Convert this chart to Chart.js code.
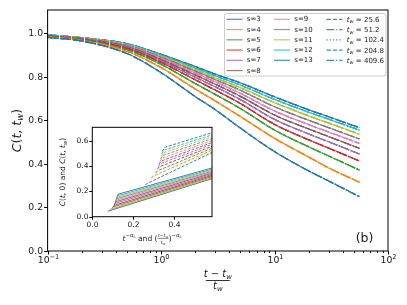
<!DOCTYPE html>
<html>
<head>
<meta charset="utf-8">
<script src="https://cdn.jsdelivr.net/npm/chart.js@4.4.0/dist/chart.umd.min.js"></script>
<style>
  html, body { margin: 0; padding: 0; background: #fff; }
  #wrap { position: relative; width: 407px; height: 305px; }
  #main { position: absolute; left: 0; top: 0; }
  #inset { position: absolute; left: 50px; top: 112px; }
</style>
</head>
<body>
<div id="wrap">
  <canvas id="main" width="407" height="305"></canvas>
  <canvas id="inset" width="170" height="140"></canvas>
</div>
<script>
// ---- data ----
const sizes = [3, 4, 5, 6, 7, 8, 9, 10, 11, 12, 13];
const waitTimes = ['25.6', '51.2', '102.4', '204.8', '409.6'];
const colors = ['#1f77b4', '#ff7f0e', '#2ca02c', '#d62728', '#9467bd', '#8c564b',
                '#e377c2', '#7f7f7f', '#bcbd22', '#17becf', '#1f77b4'];

// scaled time (t - tw)/tw
const scaledTime = [0.1, 0.2, 0.5, 1, 2, 3, 5, 10, 20, 30, 56];
const corrS3  = [0.982, 0.965, 0.908, 0.820, 0.710, 0.650, 0.565, 0.457, 0.368, 0.322, 0.250];
const corrS4  = [0.985, 0.968, 0.918, 0.843, 0.745, 0.690, 0.618, 0.518, 0.432, 0.382, 0.316];
const corrS5  = [0.987, 0.971, 0.925, 0.858, 0.770, 0.720, 0.655, 0.556, 0.479, 0.437, 0.372];
const corrS6  = [0.988, 0.973, 0.931, 0.867, 0.787, 0.740, 0.678, 0.582, 0.511, 0.473, 0.414];
const corrS7  = [0.989, 0.975, 0.935, 0.874, 0.799, 0.755, 0.696, 0.605, 0.538, 0.502, 0.446];
const corrS8  = [0.990, 0.976, 0.939, 0.880, 0.809, 0.767, 0.711, 0.625, 0.561, 0.526, 0.472];
const corrS9  = [0.991, 0.977, 0.942, 0.886, 0.818, 0.778, 0.725, 0.644, 0.581, 0.547, 0.495];
const corrS10 = [0.992, 0.978, 0.945, 0.891, 0.827, 0.788, 0.739, 0.663, 0.601, 0.567, 0.515];
const corrS11 = [0.992, 0.979, 0.948, 0.896, 0.835, 0.797, 0.751, 0.682, 0.621, 0.588, 0.537];
const corrS12 = [0.993, 0.980, 0.951, 0.900, 0.842, 0.806, 0.763, 0.697, 0.638, 0.606, 0.556];
const corrS13 = [0.994, 0.981, 0.953, 0.904, 0.848, 0.813, 0.773, 0.709, 0.649, 0.617, 0.567];
const corrBySize = [corrS3, corrS4, corrS5, corrS6, corrS7, corrS8, corrS9, corrS10, corrS11, corrS12, corrS13];

// inset: C(t,0) vs t^-a (solid), C(t,tw) vs ((t-tw)/tw)^-a (dashed)
const insetXEnd = 0.585;
const ct0StartX = [0.075, 0.085, 0.095, 0.100, 0.105, 0.108, 0.110, 0.112, 0.115, 0.117, 0.120];
const ct0StartY = [0.040, 0.050, 0.065, 0.075, 0.085, 0.095, 0.105, 0.115, 0.125, 0.135, 0.145];
const ct0KinkX  = [0.080, 0.092, 0.102, 0.108, 0.112, 0.115, 0.117, 0.119, 0.121, 0.123, 0.125];
const ct0KinkY  = [0.045, 0.060, 0.077, 0.090, 0.105, 0.118, 0.130, 0.142, 0.153, 0.165, 0.177];
const ct0EndY   = [0.300, 0.309, 0.317, 0.325, 0.333, 0.342, 0.350, 0.358, 0.367, 0.375, 0.384];
const ctwStartX = [0.260, 0.290, 0.310, 0.318, 0.322, 0.326, 0.330, 0.333, 0.336, 0.339, 0.342];
const ctwStartY = [0.250, 0.305, 0.345, 0.375, 0.395, 0.415, 0.435, 0.455, 0.475, 0.495, 0.515];
const ctwKinkX  = [0.265, 0.295, 0.316, 0.326, 0.332, 0.338, 0.342, 0.346, 0.349, 0.352, 0.355];
const ctwKinkY  = [0.260, 0.318, 0.360, 0.393, 0.418, 0.440, 0.462, 0.484, 0.505, 0.526, 0.548];
const ctwEndY   = [0.506, 0.525, 0.540, 0.555, 0.570, 0.585, 0.600, 0.615, 0.630, 0.645, 0.662];

// ---- helpers ----
const FONT = '"DejaVu Sans", sans-serif';
function fnt(size, italic) { return (italic ? 'italic ' : '') + size + 'px ' + FONT; }
function hexA(hex, a) {
  const n = parseInt(hex.slice(1), 16);
  return 'rgba(' + (n >> 16) + ',' + ((n >> 8) & 255) + ',' + (n & 255) + ',' + a + ')';
}
function runsWidth(ctx, runs) {
  let w = 0;
  for (const r of runs) {
    if (r.frac) {
      r.w = Math.max(runsWidth(ctx, r.frac[0]), runsWidth(ctx, r.frac[1])) + 1;
    } else {
      ctx.font = fnt(r.s, r.i);
      r.w = ctx.measureText(r.t).width;
    }
    w += r.w;
  }
  return w;
}
function drawRuns(ctx, runs, x, y, align) {
  const total = runsWidth(ctx, runs);
  let cx = align === 'center' ? x - total / 2 : (align === 'right' ? x - total : x);
  ctx.textAlign = 'left';
  ctx.textBaseline = 'alphabetic';
  for (const r of runs) {
    if (r.frac) {
      const mid = cx + r.w / 2;
      drawRuns(ctx, r.frac[0], mid, y - 4.2, 'center');
      drawRuns(ctx, r.frac[1], mid, y + 3.2, 'center');
      ctx.save();
      ctx.strokeStyle = ctx.fillStyle;
      ctx.lineWidth = 0.5;
      ctx.beginPath();
      ctx.moveTo(cx, y - 2.6);
      ctx.lineTo(cx + r.w, y - 2.6);
      ctx.stroke();
      ctx.restore();
    } else {
      ctx.font = fnt(r.s, r.i);
      ctx.fillText(r.t, cx, y + (r.dy || 0));
    }
    cx += r.w;
  }
  return total;
}
function line(ctx, x1, y1, x2, y2) {
  ctx.beginPath(); ctx.moveTo(x1, y1); ctx.lineTo(x2, y2); ctx.stroke();
}

// ---- main chart ----
const dashStyles = [[4.4, 1.9], [7.7, 1.9, 1.2, 1.9], [1.2, 2], [4.4, 1.9], [7.7, 1.9, 1.2, 1.9]];
const mainDatasets = [];
sizes.forEach((s, k) => {
  waitTimes.forEach((tw, j) => {
    mainDatasets.push({
      label: 's=' + s + ' tw=' + tw,
      data: scaledTime.map((x, i) => ({ x: x, y: corrBySize[k][i] })),
      borderColor: hexA(colors[k], 0.8),
      borderWidth: 1.2,
      borderDash: dashStyles[j],
      pointRadius: 0,
      cubicInterpolationMode: 'monotone',
      fill: false
    });
  });
});

const TXT = '#1a1a1a';
const mainDecor = {
  id: 'mainDecor',
  beforeDraw(chart) {
    const c = chart.ctx;
    c.save();
    c.fillStyle = '#fff';
    c.fillRect(0, 0, chart.width, chart.height);
    c.restore();
  },
  afterDraw(chart) {
    const c = chart.ctx;
    const a = chart.chartArea;
    const xs = chart.scales.x, ys = chart.scales.y;
    c.save();
    c.strokeStyle = '#000';
    c.fillStyle = TXT;
    c.lineWidth = 1;
    c.strokeRect(a.left, a.top, a.right - a.left, a.bottom - a.top);

    // y ticks
    [0, 0.2, 0.4, 0.6, 0.8, 1.0].forEach(v => {
      const py = Math.round(ys.getPixelForValue(v)) + 0.5;
      line(c, a.left - 3.5, py, a.left, py);
      c.font = fnt(9.3);
      c.textAlign = 'right';
      c.textBaseline = 'middle';
      c.fillText(v.toFixed(1), a.left - 4.5, py);
    });
    // x ticks (log)
    [-1, 0, 1, 2].forEach(e => {
      const px = Math.round(xs.getPixelForValue(Math.pow(10, e))) + 0.5;
      line(c, px, a.bottom, px, a.bottom + 3.5);
      drawRuns(c, [{ t: '10', s: 9.3 }, { t: e < 0 ? '\u2212' + (-e) : String(e), s: 6.6, dy: -4 }],
               px, a.bottom + 11.5, 'center');
      if (e < 2) {
        for (let m = 2; m <= 9; m++) {
          const mx = Math.round(xs.getPixelForValue(m * Math.pow(10, e))) + 0.5;
          line(c, mx, a.bottom, mx, a.bottom + 2);
        }
      }
    });

    // x title: fraction (t - tw)/tw
    const cx = (a.left + a.right) / 2;
    drawRuns(c, [{ t: 't', s: 10, i: true }, { t: ' \u2212 ', s: 10 }, { t: 't', s: 10, i: true },
                 { t: 'w', s: 7, i: true, dy: 2 }], cx, 277, 'center');
    c.lineWidth = 0.8;
    line(c, cx - 12, 280.5, cx + 12, 280.5);
    drawRuns(c, [{ t: 't', s: 10, i: true }, { t: 'w', s: 7, i: true, dy: 2 }], cx, 289, 'center');

    // y title
    c.save();
    c.translate(20.5, (a.top + a.bottom) / 2);
    c.rotate(-Math.PI / 2);
    drawRuns(c, [{ t: 'C', s: 12.5, i: true }, { t: '(', s: 12.5 }, { t: 't', s: 12.5, i: true },
                 { t: ', ', s: 12.5 }, { t: 't', s: 12.5, i: true }, { t: 'w', s: 8.7, i: true, dy: 2.6 },
                 { t: ')', s: 12.5 }], 0, 0, 'center');
    c.restore();

    // panel label
    c.font = fnt(12.5);
    c.textAlign = 'center';
    c.textBaseline = 'middle';
    c.fillText('(b)', 364.5, 238.5);

    // legend
    c.fillStyle = 'rgba(255,255,255,0.8)';
    c.strokeStyle = '#cccccc';
    c.lineWidth = 1;
    c.beginPath();
    c.roundRect(224.5, 13.5, 161.5, 62.5, 2);
    c.fill();
    c.stroke();
    const rowY = r => 19.3 + r * 10.25;
    sizes.forEach((s, k) => {
      const col = k < 6 ? 0 : 1;
      const row = k < 6 ? k : k - 6;
      const lx = col === 0 ? 226.5 : 274;
      c.strokeStyle = hexA(colors[k], 0.8);
      c.lineWidth = 1.2;
      c.setLineDash([]);
      line(c, lx, rowY(row), lx + 16, rowY(row));
      c.fillStyle = TXT;
      c.font = fnt(7);
      c.textAlign = 'left';
      c.textBaseline = 'middle';
      c.fillText('s=' + s, lx + 20.3, rowY(row) + 0.3);
    });
    waitTimes.forEach((tw, j) => {
      const lx = 326.5;
      c.strokeStyle = hexA(colors[0], 0.85);
      c.lineWidth = 1.2;
      c.setLineDash(dashStyles[j]);
      line(c, lx, rowY(j), lx + 16, rowY(j));
      c.setLineDash([]);
      c.fillStyle = TXT;
      drawRuns(c, [{ t: 't', s: 7, i: true }, { t: 'w', s: 5, i: true, dy: 1.5 }, { t: ' = ' + tw, s: 7 }],
               lx + 20.3, rowY(j) + 2.6, 'left');
    });
    c.restore();
  }
};

new Chart(document.getElementById('main').getContext('2d'), {
  type: 'line',
  data: { datasets: mainDatasets },
  options: {
    responsive: false,
    animation: false,
    devicePixelRatio: 1,
    events: [],
    layout: { padding: { top: 10, right: 19, left: 0, bottom: 0 } },
    plugins: { legend: { display: false }, tooltip: { enabled: false } },
    scales: {
      x: {
        type: 'logarithmic', min: 0.1, max: 100,
        ticks: { display: false }, grid: { display: false }, border: { display: false },
        afterFit: s => { s.height = 54; }
      },
      y: {
        type: 'linear', min: 0, max: 1.108,
        ticks: { display: false }, grid: { display: false }, border: { display: false },
        afterFit: s => { s.width = 47.6; }
      }
    }
  },
  plugins: [mainDecor]
});

// ---- inset chart ----
const insetDatasets = [];
sizes.forEach((s, k) => {
  insetDatasets.push({
    label: 'C(t,0) s=' + s,
    data: [{ x: ct0StartX[k], y: ct0StartY[k] }, { x: ct0KinkX[k], y: ct0KinkY[k] }, { x: insetXEnd, y: ct0EndY[k] }],
    borderColor: hexA(colors[k], 0.9), borderWidth: 1, pointRadius: 0, tension: 0
  });
});
sizes.forEach((s, k) => {
  insetDatasets.push({
    label: 'C(t,tw) s=' + s,
    data: [{ x: ctwStartX[k], y: ctwStartY[k] }, { x: ctwKinkX[k], y: ctwKinkY[k] }, { x: insetXEnd, y: ctwEndY[k] }],
    borderColor: hexA(colors[k], 0.9), borderWidth: 1, borderDash: [3, 1.5], pointRadius: 0, tension: 0
  });
});

const insetDecor = {
  id: 'insetDecor',
  beforeDatasetsDraw(chart) {
    const c = chart.ctx, a = chart.chartArea;
    c.save();
    c.fillStyle = '#fff';
    c.fillRect(a.left, a.top, a.right - a.left, a.bottom - a.top);
    c.restore();
  },
  afterDraw(chart) {
    const c = chart.ctx, a = chart.chartArea;
    const xs = chart.scales.x, ys = chart.scales.y;
    c.save();
    c.strokeStyle = '#000';
    c.fillStyle = TXT;
    c.lineWidth = 1;
    c.strokeRect(a.left, a.top, a.right - a.left, a.bottom - a.top);
    [0, 0.2, 0.4, 0.6].forEach(v => {
      const py = Math.round(ys.getPixelForValue(v)) + 0.5;
      line(c, a.left - 3, py, a.left, py);
      c.font = fnt(7.5);
      c.textAlign = 'right';
      c.textBaseline = 'middle';
      c.fillText(v.toFixed(1), a.left - 3.8, py);
    });
    [0, 0.2, 0.4].forEach(v => {
      const px = Math.round(xs.getPixelForValue(v)) + 0.5;
      line(c, px, a.bottom, px, a.bottom + 3);
      c.font = fnt(7.5);
      c.textAlign = 'center';
      c.textBaseline = 'top';
      c.fillText(v.toFixed(1), px, a.bottom + 4.5);
    });
    // x title
    const sup = [{ t: '\u2212', s: 5.3, dy: -3.6 }, { t: '\u03b1', s: 5.3, i: true, dy: -3.6 }, { t: 'c', s: 4, dy: -3 }];
    drawRuns(c, [{ t: 't', s: 7.5, i: true }].concat(sup).concat([
      { t: ' and (', s: 7.5 },
      { frac: [[{ t: 't', s: 4.6, i: true }, { t: '\u2212', s: 4.6 }, { t: 't', s: 4.6, i: true }, { t: 'w', s: 3.4, i: true, dy: 0.8 }],
               [{ t: 't', s: 4.6, i: true }, { t: 'w', s: 3.4, i: true, dy: 0.8 }]] },
      { t: ')', s: 7.5 }]).concat(sup.map(r => Object.assign({}, r))),
      (a.left + a.right) / 2, 129, 'center');
    // y title
    c.save();
    c.translate(15, (a.top + a.bottom) / 2);
    c.rotate(-Math.PI / 2);
    drawRuns(c, [{ t: 'C', s: 7.5, i: true }, { t: '(', s: 7.5 }, { t: 't', s: 7.5, i: true }, { t: ', 0) and ', s: 7.5 },
                 { t: 'C', s: 7.5, i: true }, { t: '(', s: 7.5 }, { t: 't', s: 7.5, i: true }, { t: ', ', s: 7.5 },
                 { t: 't', s: 7.5, i: true }, { t: 'w', s: 5.3, i: true, dy: 1.6 }, { t: ')', s: 7.5 }], 0, 0, 'center');
    c.restore();
    c.restore();
  }
};

new Chart(document.getElementById('inset').getContext('2d'), {
  type: 'line',
  data: { datasets: insetDatasets },
  options: {
    responsive: false,
    animation: false,
    devicePixelRatio: 1,
    events: [],
    layout: { padding: { top: 15.3, right: 8, left: 0, bottom: 0 } },
    plugins: { legend: { display: false }, tooltip: { enabled: false } },
    scales: {
      x: {
        type: 'linear', min: 0, max: insetXEnd,
        ticks: { display: false }, grid: { display: false }, border: { display: false },
        afterFit: s => { s.height = 35.3; }
      },
      y: {
        type: 'linear', min: 0, max: 0.705,
        ticks: { display: false }, grid: { display: false }, border: { display: false },
        afterFit: s => { s.width = 42.3; }
      }
    }
  },
  plugins: [insetDecor]
});
</script>
</body>
</html>
